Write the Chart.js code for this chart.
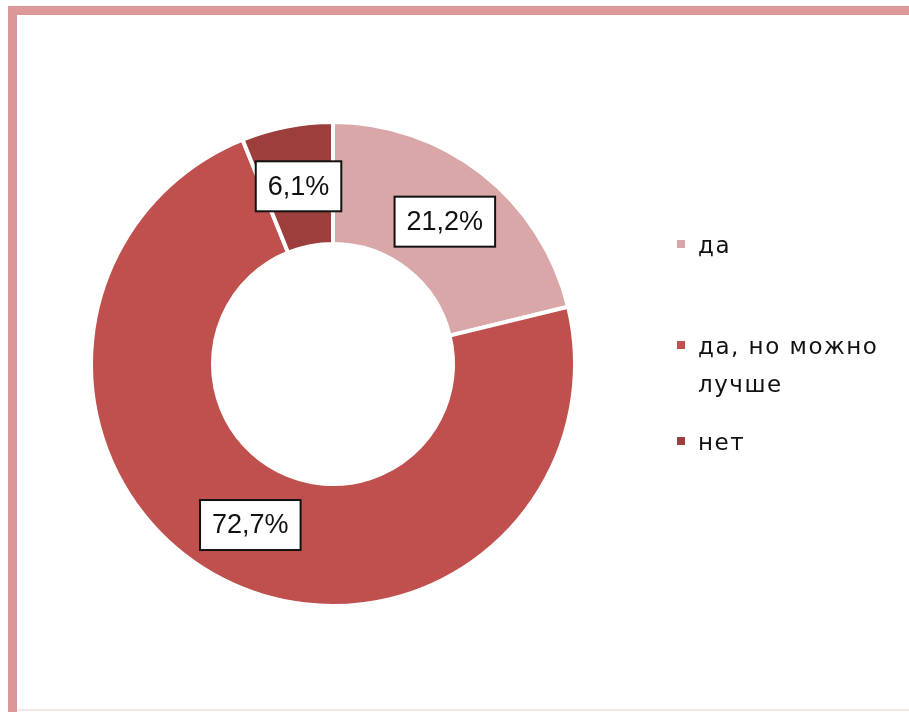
<!DOCTYPE html>
<html>
<head>
<meta charset="utf-8">
<script src="https://cdn.jsdelivr.net/npm/chart.js@4"></script>
<style>
  html, body { margin: 0; padding: 0; background: #fff; }
  #chart { display: block; }
</style>
</head>
<body>
<canvas id="chart" width="909" height="712"></canvas>
<script>
const categories = ["да", "да, но можно лучше", "нет"];
const values = [21.2, 72.7, 6.1];
const colors = ["#d9a7a7", "#c0504d", "#9c3e3c"];

// рамка вокруг диаграммы
const framePlugin = {
    id: 'frame',
    beforeDraw(chart) {
        const c = chart.ctx;
        c.save();
        c.fillStyle = '#dc9898';
        c.fillRect(8, 6, 909, 9);
        c.fillRect(8, 6, 9, 712);
        c.fillStyle = '#f6e6e6';
        c.fillRect(17, 709, 909, 2);
        c.restore();
    }
};

// подписи значений в белых рамках
const labelsPlugin = {
    id: 'boxLabels',
    afterDatasetsDraw(chart) {
        const c = chart.ctx;
        const meta = chart.getDatasetMeta(0);
        c.save();
        c.font = '27px "Liberation Sans", Arial, sans-serif';
        c.textAlign = 'center';
        c.textBaseline = 'middle';
        meta.data.forEach((arc, i) => {
            const p = arc.tooltipPosition();
            const txt = values[i].toFixed(1).replace('.', ',') + '%';
            const w = c.measureText(txt).width + 24;
            const h = 50;
            c.fillStyle = '#fff';
            c.fillRect(p.x - w / 2, p.y - h / 2, w, h);
            c.strokeStyle = '#111';
            c.lineWidth = 2;
            c.strokeRect(p.x - w / 2, p.y - h / 2, w, h);
            c.fillStyle = '#111';
            c.fillText(txt, p.x, p.y + 1);
        });
        c.restore();
    }
};

// легенда справа
const legendPlugin = {
    id: 'sideLegend',
    afterDraw(chart) {
        const c = chart.ctx;
        const ys = [253, 354, 450];
        const x = 677;
        c.save();
        c.font = '23px "DejaVu Sans", sans-serif';
        c.letterSpacing = '1.5px';
        c.textBaseline = 'alphabetic';
        categories.forEach((name, i) => {
            // перенос строк по ширине
            const words = name.split(' ');
            const lines = [];
            let line = '';
            words.forEach(wd => {
                const t = line ? line + ' ' + wd : wd;
                if (c.measureText(t).width > 190 && line) {
                    lines.push(line);
                    line = wd;
                } else {
                    line = t;
                }
            });
            lines.push(line);
            c.fillStyle = chart.data.datasets[0].backgroundColor[i];
            c.fillRect(x, ys[i] - 13, 8, 8);
            c.fillStyle = '#111';
            lines.forEach((l, k) => c.fillText(l, x + 21, ys[i] + k * 38));
        });
        c.restore();
    }
};

new Chart(document.getElementById('chart'), {
    type: 'doughnut',
    data: {
        labels: categories,
        datasets: [{
            data: values,
            backgroundColor: colors,
            borderColor: '#fff',
            borderWidth: 4,
            hoverBorderWidth: 4
        }]
    },
    options: {
        responsive: false,
        animation: false,
        cutout: '49.6%',
        layout: { padding: { left: 89, right: 332, top: 120, bottom: 104 } },
        plugins: {
            legend: { display: false },
            tooltip: { enabled: false }
        }
    },
    plugins: [framePlugin, labelsPlugin, legendPlugin]
});
</script>
</body>
</html>
